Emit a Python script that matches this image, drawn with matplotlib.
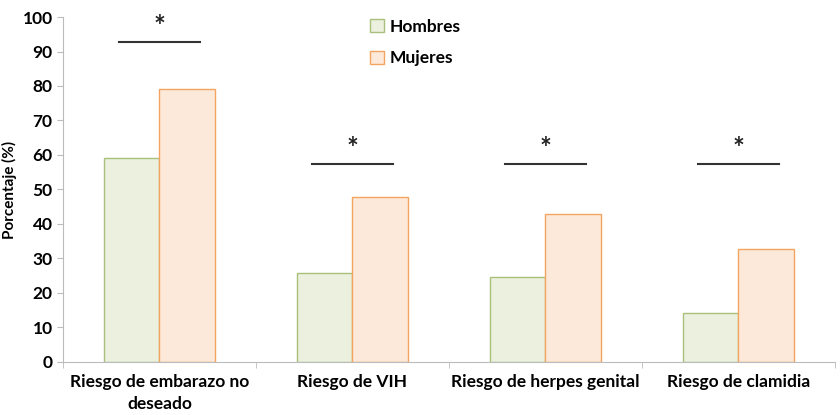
import matplotlib.pyplot as plt
import numpy as np

categories = ['Riesgo de embarazo no\ndeseado', 'Riesgo de VIH',
              'Riesgo de herpes genital', 'Riesgo de clamidia']
hombres = [59.0, 25.7, 24.5, 14.3]
mujeres = [79.0, 47.8, 43.0, 32.8]
sig_levels = [92.8, 57.5, 57.5, 57.5]
yticks = list(range(0, 101, 10))

plt.rcParams['font.family'] = ['Lato', 'DejaVu Sans']
plt.rcParams['font.weight'] = 'bold'
plt.rcParams['axes.labelweight'] = 'bold'

fig = plt.figure(figsize=(8.4, 4.15), dpi=100)
ax = fig.add_axes([0.075, 0.128, 0.919, 0.831])

x = np.arange(len(categories))
w = 0.287
ax.bar(x - w / 2, hombres, w, color='#ebf1de', edgecolor='#a9c07c',
       linewidth=1, label='Hombres')
ax.bar(x + w / 2, mujeres, w, color='#fde9d9', edgecolor='#f4a460',
       linewidth=1, label='Mujeres')

for xi, lvl in zip(x, sig_levels):
    ax.plot([xi - 0.21, xi + 0.21], [lvl, lvl], color='#333333', lw=1.5)
    ax.text(xi, lvl + 0.5, '*', ha='center', va='bottom', fontsize=20,
            color='#222222')

ax.set_xlim(-0.5, len(categories) - 0.5)
ax.set_ylim(0, 100)
ax.set_xticks(np.arange(-0.5, len(categories), 1), minor=True)
ax.tick_params(axis='x', which='major', length=0, pad=9)
ax.tick_params(axis='x', which='minor', length=4, color='#bbbbbb')
ax.tick_params(axis='y', length=4, color='#bbbbbb')
ax.set_xticks(x)
ax.set_xticklabels(categories, fontsize=12.5, fontweight='bold',
                   linespacing=1.4)
ax.set_yticks(yticks)
ax.set_yticklabels([str(v) for v in yticks], fontsize=12.5,
                   fontweight='bold')
ax.set_ylabel('Porcentaje (%)', fontsize=11, fontweight='bold', labelpad=4)

for s in ['top', 'right']:
    ax.spines[s].set_visible(False)
for s in ['left', 'bottom']:
    ax.spines[s].set_color('#bbbbbb')

ax.legend(loc='upper left', bbox_to_anchor=(0.378, 1.04), frameon=False,
          prop={'size': 12.5, 'weight': 'bold'}, handlelength=0.8,
          handleheight=0.8, labelspacing=0.9, handletextpad=0.3)

plt.savefig('out.png', dpi=100)
